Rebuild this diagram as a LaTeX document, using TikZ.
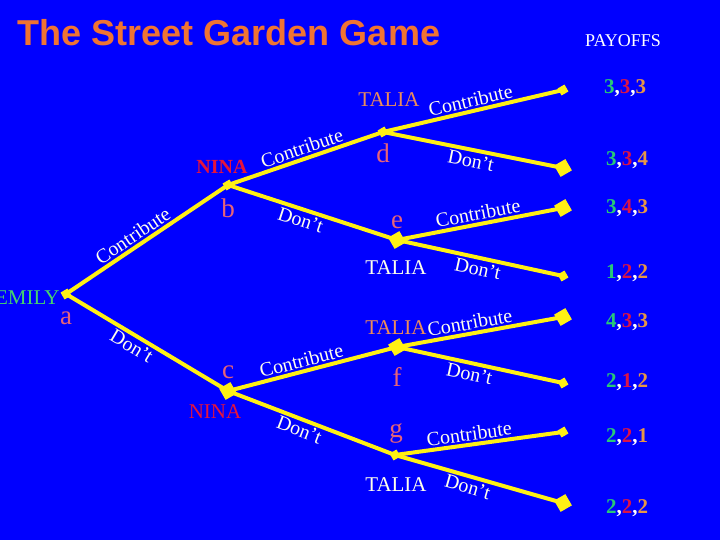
\documentclass[tikz,border=0pt]{standalone}
\usepackage{fontspec}
\setmainfont{Liberation Serif}
\newfontfamily\titlefont{Liberation Sans}
\usetikzlibrary{positioning}
\definecolor{bg}{RGB}{0,0,255}
\definecolor{yel}{RGB}{255,240,20}
\definecolor{ttl}{RGB}{240,115,50}
\definecolor{txt}{RGB}{255,255,235}
\definecolor{emily}{RGB}{70,210,110}
\definecolor{nina}{RGB}{230,20,60}
\definecolor{talia}{RGB}{235,140,90}
\definecolor{letter}{RGB}{230,100,120}
\definecolor{pa}{RGB}{40,200,120}
\definecolor{pb}{RGB}{220,20,70}
\definecolor{pc}{RGB}{230,150,70}
\newcommand{\payoff}[3]{\textcolor{pa}{#1},\textcolor{pb}{#2},\textcolor{pc}{#3}}

\begin{document}
\begin{tikzpicture}[x=1pt,y=-1pt,
    mv/.style={rectangle,fill=yel,inner sep=0pt,minimum size=8pt,rotate=30},
    big/.style={mv,minimum size=13pt},
    edge/.style={yel,line width=4pt},
    act/.style={font=\fontsize{20}{21}\selectfont,txt,sloped,inner sep=2pt},
    who/.style={font=\fontsize{21}{22}\selectfont},
    lt/.style={font=\fontsize{27}{28}\selectfont,letter},
    pay/.style={font=\fontsize{21}{22}\selectfont\bfseries,white}]

    \fill[bg] (0,0) rectangle (720,540);
    \useasboundingbox (0,0) rectangle (720,540);

    \node[font=\titlefont\fontsize{36}{40}\selectfont\bfseries,ttl] (title) at (229,33) {The Street Garden Game};
    \node[font=\fontsize{18}{19}\selectfont,white] (head) at (623,41) {PAYOFFS};

    % decision nodes
    \node[mv]  (a) at (66,294) {};
    \node[mv]  (b) at (228,185) {};
    \node[big] (c) at (228,391) {};
    \node[mv]  (d) at (383,132) {};
    \node[big] (e) at (397,240) {};
    \node[big] (f) at (397,347) {};
    \node[mv]  (g) at (395,455) {};

    % end nodes
    \node[mv]  (l1) at (563,90) {};
    \node[big] (l2) at (563,168) {};
    \node[big] (l3) at (563,208) {};
    \node[mv]  (l4) at (563,276) {};
    \node[big] (l5) at (563,317) {};
    \node[mv]  (l6) at (563,383) {};
    \node[mv]  (l7) at (563,432) {};
    \node[big] (l8) at (563,503) {};

    \draw[edge] (a.center) -- node[act,above,pos=.45] {Contribute} (b.center);
    \draw[edge] (a.center) -- node[act,below,pos=.44] {Don't} (c.center);
    \draw[edge] (b.center) -- node[act,above] {Contribute} (d.center);
    \draw[edge] (b.center) -- node[act,below,pos=.45] {Don't} (e.center);
    \draw[edge] (c.center) -- node[act,above,pos=.45] {Contribute} (f.center);
    \draw[edge] (c.center) -- node[act,below,pos=.45] {Don't} (g.center);
    \draw[edge] (d.center) -- node[act,above] {Contribute} (l1.center);
    \draw[edge] (d.center) -- node[act,below] {Don't} (l2.center);
    \draw[edge] (e.center) -- node[act,above] {Contribute} (l3.center);
    \draw[edge] (e.center) -- node[act,below] {Don't} (l4.center);
    \draw[edge] (f.center) -- node[act,above,pos=.45] {Contribute} (l5.center);
    \draw[edge] (f.center) -- node[act,below,pos=.45] {Don't} (l6.center);
    \draw[edge] (g.center) -- node[act,above,pos=.45] {Contribute} (l7.center);
    \draw[edge] (g.center) -- node[act,below,pos=.45] {Don't} (l8.center);

    % players and node letters
    \node[who,emily,anchor=east] (pe) at (63,298) {EMILY};
    \node[who,nina,font=\fontsize{20}{21}\selectfont\bfseries] (pn1) at (222,167) {NINA};
    \node[who,nina] (pn2) at (215,412) {NINA};
    \node[who,talia] (pt1) at (389,100) {TALIA};
    \node[who,txt] (pt2) at (396,268) {TALIA};
    \node[who,talia] (pt3) at (396,328) {TALIA};
    \node[who,txt] (pt4) at (396,485) {TALIA};

    \node[lt] (la) at (66,318) {a};
    \node[lt] (lb) at (228,208) {b};
    \node[lt] (lc) at (228,372) {c};
    \node[lt] (ld) at (383,153) {d};
    \node[lt] (le) at (397,222) {e};
    \node[lt] (lf) at (397,377) {f};
    \node[lt] (lg) at (396,433) {g};

    % payoffs
    \node[pay] (p1) at (625,88)  {\payoff{3}{3}{3}};
    \node[pay] (p2) at (627,160) {\payoff{3}{3}{4}};
    \node[pay] (p3) at (627,208) {\payoff{3}{4}{3}};
    \node[pay] (p4) at (627,273) {\payoff{1}{2}{2}};
    \node[pay] (p5) at (627,322) {\payoff{4}{3}{3}};
    \node[pay] (p6) at (627,382) {\payoff{2}{1}{2}};
    \node[pay] (p7) at (627,437) {\payoff{2}{2}{1}};
    \node[pay] (p8) at (627,508) {\payoff{2}{2}{2}};
\end{tikzpicture}
\end{document}
